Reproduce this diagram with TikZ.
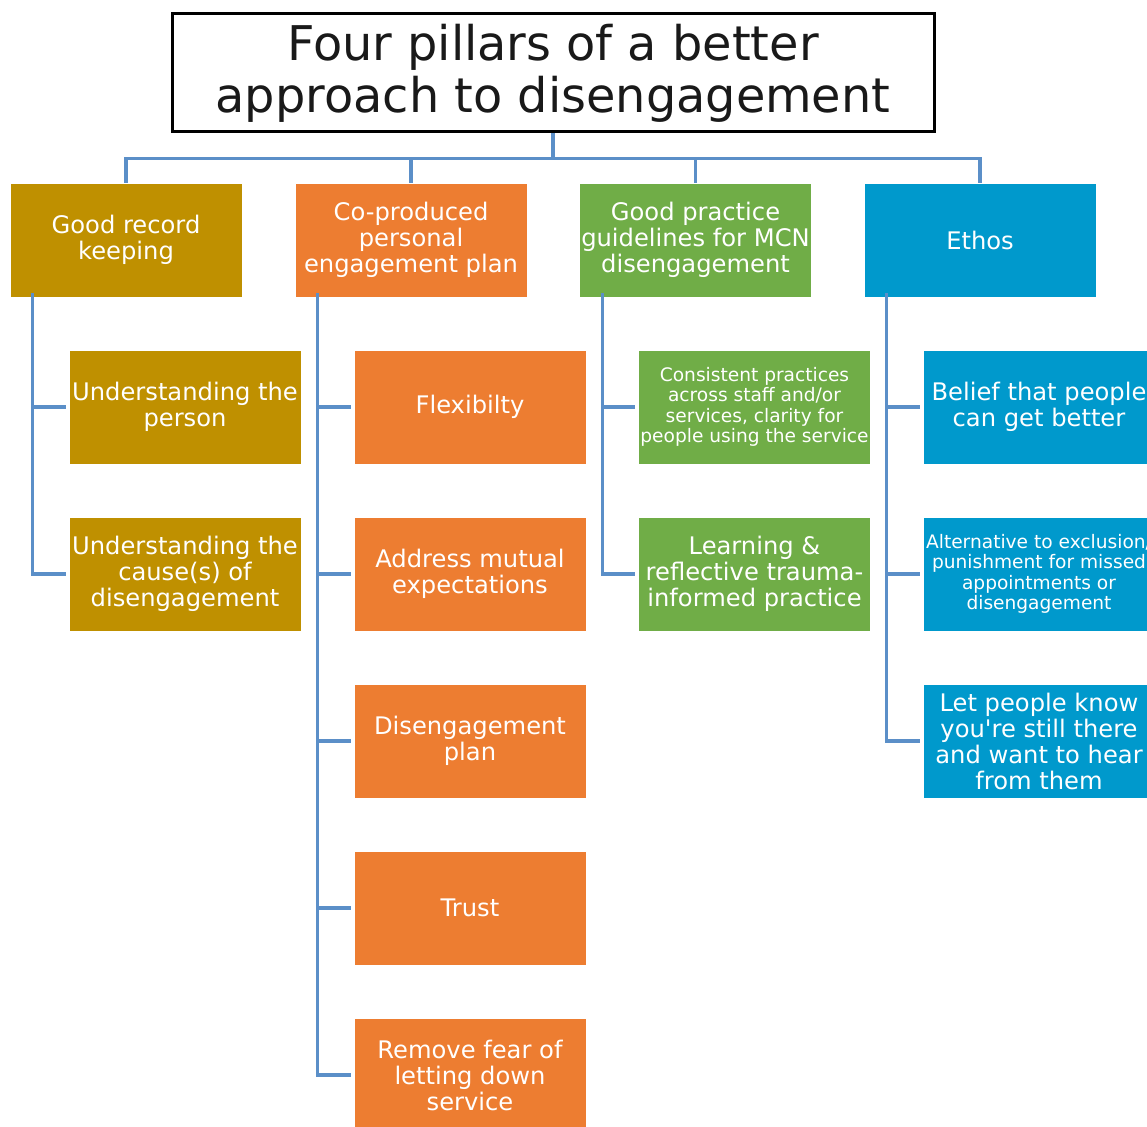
\documentclass[tikz,border=0pt]{standalone}
\usepackage{fontspec}
\setmainfont{DejaVu Sans}
\definecolor{cgold}{RGB}{191,144,0}
\definecolor{corange}{RGB}{237,125,49}
\definecolor{cgreen}{RGB}{112,173,71}
\definecolor{cblue}{RGB}{0,153,204}
\definecolor{clink}{RGB}{91,143,200}
\tikzset{
  pillar/.style={minimum width=232pt, minimum height=114pt, inner sep=0pt,
    align=center, text=white, font=\fontsize{24.2}{26}\selectfont, draw=white, line width=0.6pt},
  small/.style={font=\fontsize{18.6}{20.5}\selectfont},
  link/.style={draw=clink, line width=3.2pt},
}
\begin{document}
\begin{tikzpicture}[x=1pt,y=-1pt]
\clip (0,0) rectangle (1147,1126);
\fill[white] (0,0) rectangle (1147,1126);

% title
\node[draw=black, line width=3pt, minimum width=762pt, minimum height=118pt, inner sep=0pt,
  align=center, text=black!90, font=\fontsize{47.8}{52}\selectfont] (title) at (553,73)
  {Four pillars of a better\\approach to disengagement};

% the four pillars
\node[pillar, fill=cgold]   (p1) at (126,240)   {Good record\\keeping};
\node[pillar, fill=corange] (p2) at (411,240)   {Co-produced\\personal\\engagement plan};
\node[pillar, fill=cgreen]  (p3) at (695.5,240) {Good practice\\guidelines for MCN\\disengagement};
\node[pillar, fill=cblue]   (p4) at (980,240)   {Ethos};

% items under each pillar
\node[pillar, fill=cgold] (a1) at (185,407) {Understanding the\\person};
\node[pillar, fill=cgold] (a2) at (185,574) {Understanding the\\cause(s) of\\disengagement};

\node[pillar, fill=corange] (b1) at (470,407)  {Flexibilty};
\node[pillar, fill=corange] (b2) at (470,574)  {Address mutual\\expectations};
\node[pillar, fill=corange] (b3) at (470,741)  {Disengagement\\plan};
\node[pillar, fill=corange] (b4) at (470,908)  {Trust};
\node[pillar, fill=corange] (b5) at (470,1075) {Remove fear of\\letting down\\service};

\node[pillar, small, fill=cgreen] (c1) at (754.5,407) {Consistent practices\\across staff and/or\\services, clarity for\\people using the service};
\node[pillar, fill=cgreen] (c2) at (754.5,574) {Learning \&\\reflective trauma-\\informed practice};

\node[pillar, fill=cblue] (d1) at (1039,407) {Belief that people\\can get better};
\node[pillar, small, fill=cblue] (d2) at (1039,574) {Alternative to exclusion/\\punishment for missed\\appointments or\\disengagement};
\node[pillar, fill=cblue] (d3) at (1039,741) {Let people know\\you\textquotesingle re still there\\and want to hear\\from them};

% connectors from the title
\foreach \p in {p1,p2,p3,p4}
  \draw[link] (title.south) -- ++(0,25) -| (\p.north);

% connectors from each pillar to its items
\foreach \p/\c in {p1/a1,p1/a2,p2/b1,p2/b2,p2/b3,p2/b4,p2/b5,p3/c1,p3/c2,p4/d1,p4/d2,p4/d3}
  \draw[link] ([xshift=23pt,yshift=4pt]\p.south west) |- ([xshift=-3pt]\c.west);
\end{tikzpicture}
\end{document}
